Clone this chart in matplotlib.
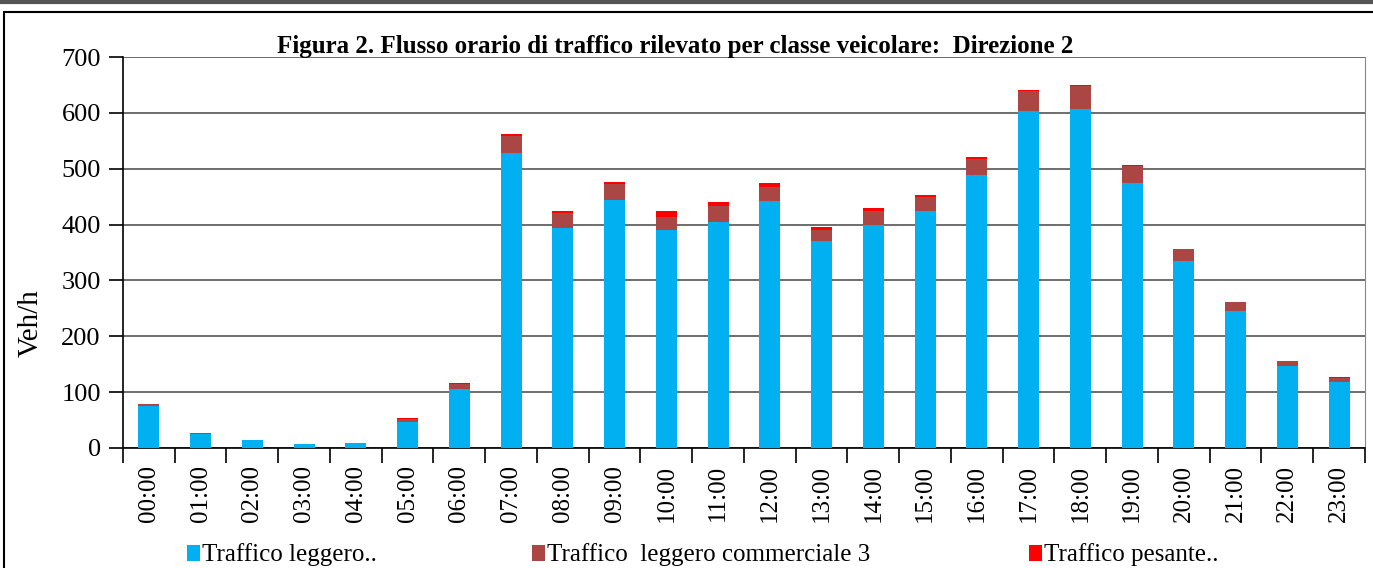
import matplotlib

matplotlib.use("Agg")
import matplotlib.pyplot as plt
from matplotlib.patches import Patch, Rectangle
from matplotlib.lines import Line2D
import numpy as np

plt.rcParams["font.family"] = ["Liberation Serif", "DejaVu Serif"]

hours = [f"{h:02d}:00" for h in range(24)]
light = [75, 25, 14, 7, 9, 47, 105, 528, 393, 444, 390, 405, 443, 370,
         400, 424, 489, 603, 607, 475, 335, 246, 147, 119]
light_comm = [4, 1.5, 0.5, 0, 0.5, 5, 10, 31, 27, 28, 24, 28, 25, 20,
              25, 25, 29, 36, 41, 29, 21, 15, 9, 7]
heavy = [0.5, 0.5, 0, 0, 0, 1.5, 2, 4, 3.5, 3.5, 10, 7, 6, 6,
         5, 4, 2.5, 2, 1.5, 3, 0.5, 0.5, 0.5, 0.5]
series_names = ["Traffico leggero..", "Traffico  leggero commerciale 3", "Traffico pesante.."]
colors = ["#00B0F0", "#AA4643", "#FF0000"]

W, H = 1373, 568
fig = plt.figure(figsize=(W / 100, H / 100), dpi=100)
ax = fig.add_axes([123 / W, 1 - 448 / H, (1365 - 123) / W, (448 - 57) / H])

x = np.arange(len(hours))
light_a = np.array(light, float)
comm_a = np.array(light_comm, float)
heavy_a = np.array(heavy, float)
bw = 0.41
ax.bar(x, light_a, bw, color=colors[0], zorder=3)
ax.bar(x, comm_a, bw, bottom=light_a, color=colors[1], zorder=3)
ax.bar(x, heavy_a, bw, bottom=light_a + comm_a, color=colors[2], zorder=3)

ax.set_xlim(-0.5, len(hours) - 0.5)
ax.set_ylim(0, 700)
ax.set_yticks(range(0, 701, 100))
ax.yaxis.grid(True, color="#555555", linewidth=1.2, zorder=0)
ax.set_axisbelow(True)

ax.set_xticks(np.arange(-0.5, len(hours), 1))
ax.set_xticklabels([])
ax.tick_params(axis="x", which="major", length=11, width=1.2, direction="out")
ax.set_xticks(x, minor=True)
ax.set_xticklabels(hours, minor=True, rotation=90, fontsize=18)
ax.tick_params(axis="x", which="minor", length=0, pad=12)
ax.tick_params(axis="y", length=10, width=1.2, labelsize=19, pad=6)

for side in ["left", "bottom"]:
    ax.spines[side].set_color("black")
    ax.spines[side].set_linewidth(1.2)
ax.spines["right"].set_color("#888888")
ax.spines["top"].set_visible(False)

ax.set_ylabel("Veh/h", fontsize=21, labelpad=12)
ax.yaxis.set_label_coords(-0.064, 0.32)

fig.text(675 / W, 1 - 47 / H, "Figura 2. Flusso orario di traffico rilevato per classe veicolare:  Direzione 2",
         ha="center", va="center", fontsize=18, fontweight="bold")

# legend entries placed individually
legend_x = [187, 532, 1029]
for name, col, lx in zip(series_names, colors, legend_x):
    handle = Patch(facecolor=col, edgecolor="none")
    fig.legend([handle], [name], loc="center left",
               bbox_to_anchor=(lx / W, 1 - 555 / H), frameon=False,
               fontsize=18, handlelength=0.5, handleheight=0.6,
               handletextpad=0.1, borderaxespad=0, borderpad=0)

# outer frame
fig.add_artist(Line2D([0, 1], [1 - 1.5 / H, 1 - 1.5 / H], color="#555555", linewidth=3,
                      transform=fig.transFigure))
fig.add_artist(Rectangle((4 / W, -0.1), 1.2, 1 - 12 / H + 0.1, fill=False,
                         edgecolor="black", linewidth=1.5, transform=fig.transFigure))

fig.savefig("out.png", dpi=100)
